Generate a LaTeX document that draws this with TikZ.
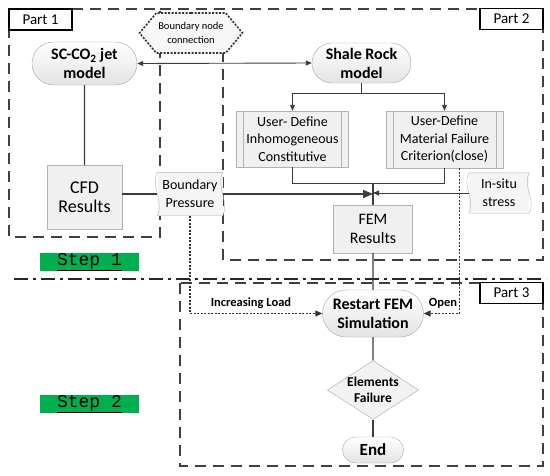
\documentclass[tikz,border=0pt]{standalone}
\usepackage{fontspec}
\setmainfont{Carlito}
\newfontfamily\stepfont{Liberation Mono}
\usetikzlibrary{shapes.geometric, shapes.misc, shapes.symbols, arrows.meta, positioning}
\definecolor{stepgreen}{RGB}{0,176,80}
\definecolor{linegray}{RGB}{60,60,60}

\begin{document}
\begin{tikzpicture}[x=1pt, y=-1pt,
    pill/.style={rounded rectangle, draw=gray!70, top color=white, bottom color=gray!22, align=center, inner sep=1pt, font=\fontsize{16}{19}\selectfont\bfseries},
    proc/.style={rectangle, draw=gray!60, fill=gray!12, align=center, inner sep=1pt, font=\fontsize{17}{20}\selectfont},
    predef/.style={proc, font=\fontsize{14}{17.5}\selectfont, path picture={
        \draw[gray!60] ([xshift=7pt]path picture bounding box.north west) -- ([xshift=7pt]path picture bounding box.south west);
        \draw[gray!60] ([xshift=-7pt]path picture bounding box.north east) -- ([xshift=-7pt]path picture bounding box.south east);}},
    wavy/.style={rectangle, fill=gray!8, align=center, inner sep=1pt, font=\fontsize{14}{18}\selectfont},
    wavyline/.style={draw=gray!60},
    partbox/.style={draw=black!75, line width=1.3pt, dash pattern=on 11pt off 7pt},
    partlabel/.style={rectangle, draw=black, line width=1.6pt, fill=white, minimum width=63pt, minimum height=21pt, inner sep=0pt, font=\fontsize{15}{16}\selectfont},
    steplabel/.style={fill=stepgreen, minimum width=99pt, minimum height=18pt, inner sep=0pt, font=\stepfont\fontsize{18}{18}\selectfont},
    conn/.style={draw=linegray, line width=1.3pt},
    arr/.style={draw=linegray, line width=0.9pt, -{Triangle[length=6pt,width=5pt]}},
    bigarr/.style={conn, -{Triangle[length=10pt,width=8pt]}},
    dotarr/.style={draw=black!80, line width=1.3pt, dash pattern=on 2pt off 1.5pt, -{Triangle[length=7pt,width=6pt]}},
    note/.style={font=\fontsize{12.5}{14}\selectfont\bfseries, inner sep=1pt}
]
    \useasboundingbox (0,0) rectangle (550,475);

    % part frames
    \draw[partbox] (9,9) rectangle (160,237);
    \draw[partbox] (160,9) -- (543,9) -- (543,260) -- (223,260) -- (223,9);
    \draw[partbox] (180,283) rectangle (543,466);
    \draw[draw=black!85, line width=2pt, dash pattern=on 14pt off 5pt on 3pt off 5pt] (14,279) -- (546,279);

    \node[partlabel] (p1) at (40.5,19.5) {Part 1};
    \node[partlabel] (p2) at (511.5,19) {Part 2};
    \node[partlabel] (p3) at (511.5,293) {Part 3};

    \node[steplabel] (s1) at (89.5,262) {\underline{Step 1}};
    \node[steplabel] (s2) at (89.5,404) {\underline{Step 2}};

    % step 1
    \node[signal, signal to=west and east, signal pointer angle=100, draw=black!80, line width=1.6pt, dash pattern=on 2pt off 1.5pt, fill=gray!6, minimum width=103pt, minimum height=40pt, inner sep=0pt, align=center, font=\fontsize{10.5}{14}\selectfont] (hex) at (191,33) {Boundary node\\connection};

    \node[pill, minimum width=107pt, minimum height=43pt] (sc) at (84.5,63.5) {SC-CO\textsubscript{2} jet\\model};
    \node[pill, minimum width=101pt, minimum height=40pt] (shale) at (361.5,63) {Shale Rock\\model};
    \node[proc, minimum width=75pt, minimum height=64pt, font=\fontsize{18}{19}\selectfont] (cfd) at (84.5,197) {CFD\\Results};
    \node[predef, minimum width=112pt, minimum height=56pt] (inh) at (292.5,139) {User- Define\\Inhomogeneous\\Constitutive};
    \node[predef, minimum width=117pt, minimum height=57pt] (mat) at (444.5,139.5) {User-Define\\Material Failure\\Criterion(close)};
    \node[wavy, minimum width=65pt, minimum height=43pt] (bp) at (190,194) {Boundary\\Pressure};
    \node[wavy, minimum width=60pt, minimum height=40pt] (ins) at (499,193) {In-situ\\stress};
    \node[proc, minimum width=79pt, minimum height=48pt, font=\fontsize{16}{19}\selectfont] (fem) at (373,229) {FEM\\Results};

    \draw[wavyline] (bp.north west) .. controls ([shift={(-7pt,-14pt)}]bp.north west) and ([shift={(7pt,14pt)}]bp.south west) .. (bp.south west) -- (bp.south east) .. controls ([shift={(7pt,14pt)}]bp.south east) and ([shift={(-7pt,-14pt)}]bp.north east) .. (bp.north east) -- cycle;
    \draw[wavyline] (ins.north west) .. controls ([shift={(-7pt,-14pt)}]ins.north west) and ([shift={(7pt,14pt)}]ins.south west) .. (ins.south west) -- (ins.south east) .. controls ([shift={(7pt,14pt)}]ins.south east) and ([shift={(-7pt,-14pt)}]ins.north east) .. (ins.north east) -- cycle;

    \coordinate (spl) at (361.5,93);
    \coordinate (mrg) at (373,183);

    \draw[arr, {Triangle[length=6pt,width=5pt]}-{Triangle[length=6pt,width=5pt]}] (sc.east) -- (shale.west);
    \draw[conn] (sc) -- (cfd);
    \draw[conn] (bp.west -| cfd.east) -- (bp.west);
    \draw[conn, draw=linegray, line width=0.9pt] (shale.south) -- (spl);
    \draw[arr] (spl) -| (inh.north);
    \draw[arr] (spl) -| (mat.north);
    \draw[conn, line width=0.9pt] (inh.south) |- (mrg);
    \draw[conn, line width=0.9pt] (mat.south) |- (mrg);
    \draw[conn] (mrg) -- (fem);
    \draw[bigarr] (bp.east) -- (bp.east -| fem.north);
    \draw[arr] (ins.west) -- (ins.west -| fem.north);

    % step 2
    \node[pill, minimum width=103pt, minimum height=47pt] (rst) at (373,313.5) {Restart FEM\\Simulation};
    \node[diamond, draw=gray!70, fill=gray!10, aspect=1.55, minimum width=84pt, minimum height=54pt, inner sep=0pt, align=center, font=\fontsize{13.5}{16}\selectfont\bfseries] (fail) at (373,390) {Elements\\Failure};
    \node[pill, minimum width=63pt, minimum height=26pt, font=\fontsize{17}{19}\selectfont\bfseries] (fin) at (373,450) {End};

    \draw[conn] (fem) -- (rst);
    \draw[conn] (rst) -- (fail);
    \draw[conn] (fail) -- (fin);

    \draw[dotarr] (bp.south) |- (rst.west);
    \draw[dotarr] ([xshift=15pt]mat.south) |- (rst.east);
    \node[note] (load) at (251,303) {Increasing Load};
    \node[note] (opn) at (443,303) {Open};
\end{tikzpicture}
\end{document}
